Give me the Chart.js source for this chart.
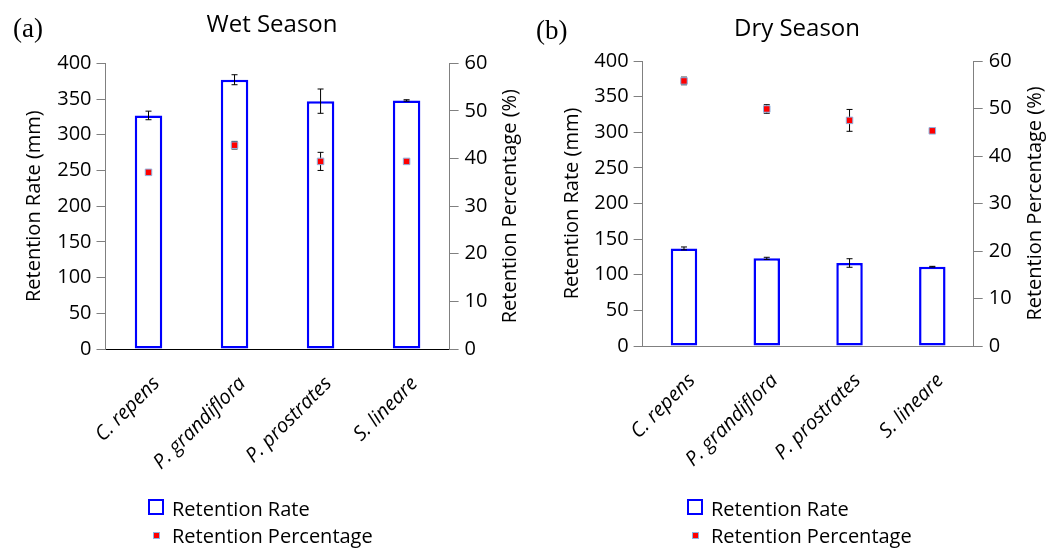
<!DOCTYPE html>
<html>
<head>
<meta charset="utf-8">
<script src="https://cdn.jsdelivr.net/npm/chart.js"></script>
<style>
    body { margin: 0; background: #fff; font-family: 'Open Sans', sans-serif; }
    #wrap { position: relative; width: 1057px; height: 548px; overflow: hidden; }
    canvas { position: absolute; top: 0; }
    .panel { position: absolute; font-family: 'Liberation Serif', serif; font-size: 27px; line-height: 30px; }
    .leg { position: absolute; font-size: 20px; line-height: 24px; height: 24px; white-space: nowrap; }
    .box { position: absolute; box-sizing: border-box; }
</style>
</head>
<body>
<div id="wrap">
    <canvas id="wetChart" width="529" height="548" style="left:0"></canvas>
    <canvas id="dryChart" width="528" height="548" style="left:529px"></canvas>
    <div class="panel" style="left:13px;top:13px">(a)</div>
    <div class="panel" style="left:536px;top:15px">(b)</div>
    <div id="wetLegend"></div>
    <div id="dryLegend"></div>
</div>
<script>
var species = ['C. repens', 'P. grandiflora', 'P. prostrates', 'S. lineare'];

var wetRate = [327, 377, 347, 348];
var wetRateErr = [6, 7, 17, 1];
var wetPct = [37.1, 42.8, 39.4, 39.4];
var wetPctErr = [0.3, 0.8, 1.9, 0.3];

var dryRate = [137, 123, 116.5, 111.3];
var dryRateErr = [2, 1.5, 6, 0.5];
var dryPct = [55.8, 49.9, 47.5, 45.3];
var dryPctErr = [0.8, 0.9, 2.3, 0.3];

var rateMax = 400, rateStep = 50;
var pctMax = 60, pctStep = 10;

Chart.defaults.font.family = "'Open Sans', sans-serif";
Chart.defaults.color = '#000';

function whiskers(chart, index) {
    var ds = chart.data.datasets[index];
    if (!ds.errors) return;
    var ctx = chart.ctx;
    var meta = chart.getDatasetMeta(index);
    var scale = chart.scales[meta.yAxisID];
    ctx.save();
    ctx.strokeStyle = '#000';
    ctx.lineWidth = 1;
    meta.data.forEach(function (el, j) {
        var hi = scale.getPixelForValue(ds.data[j] + ds.errors[j]);
        var lo = scale.getPixelForValue(ds.data[j] - ds.errors[j]);
        ctx.beginPath();
        ctx.moveTo(el.x, hi); ctx.lineTo(el.x, lo);
        ctx.moveTo(el.x - 3, hi); ctx.lineTo(el.x + 3, hi);
        ctx.moveTo(el.x - 3, lo); ctx.lineTo(el.x + 3, lo);
        ctx.stroke();
    });
    ctx.restore();
}

// bar whiskers go on top of the bars, point whiskers go under the markers
var errorBars = {
    id: 'errorBars',
    afterDatasetDraw: function (chart, args) {
        if (chart.data.datasets[args.index].type !== 'line') whiskers(chart, args.index);
    },
    beforeDatasetDraw: function (chart, args) {
        if (chart.data.datasets[args.index].type === 'line') whiskers(chart, args.index);
    }
};

// right axis title reads bottom to top, like the left one
var rightTitle = {
    id: 'rightTitle',
    afterDraw: function (chart, args, opts) {
        var ctx = chart.ctx;
        var a = chart.chartArea;
        ctx.save();
        ctx.translate(a.right + opts.offset, (a.top + a.bottom) / 2);
        ctx.rotate(-Math.PI / 2);
        ctx.font = "20px 'Open Sans', sans-serif";
        ctx.fillStyle = '#000';
        ctx.textAlign = 'center';
        ctx.textBaseline = 'middle';
        ctx.fillText(opts.text, 0, 0);
        ctx.restore();
    }
};

function drawChart(id, title, rate, rateErr, pct, pctErr, lay) {
    var ctx = document.getElementById(id).getContext('2d');
    return new Chart(ctx, {
        type: 'bar',
        data: {
            labels: species,
            datasets: [{
                type: 'line',
                label: 'Retention Percentage',
                data: pct,
                errors: pctErr,
                yAxisID: 'y1',
                showLine: false,
                pointStyle: 'rect',
                pointRadius: 4.6,
                pointBackgroundColor: '#ff0000',
                pointBorderColor: '#8db4e2',
                pointBorderWidth: 1,
                order: 1
            }, {
                label: 'Retention Rate',
                data: rate,
                errors: rateErr,
                yAxisID: 'y',
                backgroundColor: '#ffffff',
                borderColor: '#0000ff',
                borderWidth: 2.5,
                borderSkipped: false,
                barPercentage: 0.8,
                categoryPercentage: 0.4,
                order: 2
            }]
        },
        options: {
            responsive: false,
            animation: false,
            layout: { padding: { left: lay.padLeft, right: 0, top: 0, bottom: 0 } },
            plugins: {
                legend: { display: false },
                tooltip: { enabled: false },
                title: {
                    display: true,
                    text: title,
                    font: { size: 24, weight: 'normal' },
                    color: '#000',
                    padding: { top: lay.titleTop, bottom: lay.titleBottom }
                },
                rightTitle: { text: 'Retention Percentage (%)', offset: lay.rightTitle }
            },
            scales: {
                x: {
                    grid: { display: false },
                    border: { display: true, color: lay.xColor, width: 1 },
                    ticks: {
                        autoSkip: false,
                        minRotation: 45,
                        maxRotation: 45,
                        padding: 15,
                        labelOffset: 8,
                        font: { size: 20, style: 'italic' }
                    },
                    afterFit: function (s) { s.height = lay.xHeight; }
                },
                y: {
                    position: 'left',
                    min: 0,
                    max: rateMax,
                    ticks: { stepSize: rateStep, padding: 5, font: { size: 20 } },
                    grid: { drawOnChartArea: false, tickLength: 9, color: '#808080' },
                    border: { color: '#808080' },
                    title: {
                        display: true,
                        text: 'Retention Rate (mm)',
                        font: { size: 20 },
                        padding: { top: lay.leftTitle }
                    },
                    afterFit: function (s) { s.width = lay.leftWidth; }
                },
                y1: {
                    position: 'right',
                    min: 0,
                    max: pctMax,
                    ticks: { stepSize: pctStep, padding: 6, font: { size: 20 } },
                    grid: { drawOnChartArea: false, tickLength: 9, color: '#808080' },
                    border: { color: '#808080' },
                    afterFit: function (s) { s.width = lay.rightWidth; }
                }
            }
        },
        plugins: [errorBars, rightTitle]
    });
}

function drawLegend(id, chart, left) {
    var el = document.getElementById(id);
    var rows = [
        { ds: chart.data.datasets[1], top: 497 },
        { ds: chart.data.datasets[0], top: 524 }
    ];
    rows.forEach(function (r) {
        var mark = document.createElement('div');
        mark.className = 'box';
        if (r.ds.type === 'line') {
            mark.style.cssText = 'left:' + (left + 5) + 'px;top:' + (r.top + 8) + 'px;width:7px;height:7px;' +
                'background:' + r.ds.pointBackgroundColor + ';border:1px solid ' + r.ds.pointBorderColor;
        } else {
            mark.style.cssText = 'left:' + left + 'px;top:' + (r.top + 2) + 'px;width:16px;height:16px;' +
                'background:#fff;border:2px solid ' + r.ds.borderColor;
        }
        el.appendChild(mark);
        var txt = document.createElement('div');
        txt.className = 'leg';
        txt.style.left = (left + 24) + 'px';
        txt.style.top = r.top + 'px';
        txt.textContent = r.ds.label;
        el.appendChild(txt);
    });
}

var wet = drawChart('wetChart', 'Wet Season', wetRate, wetRateErr, wetPct, wetPctErr, {
    padLeft: 15, leftWidth: 90.5, rightWidth: 79.4, leftTitle: 7, rightTitle: 61,
    titleTop: 11, titleBottom: 23.5, xHeight: 199, xColor: '#000'
});
var dry = drawChart('dryChart', 'Dry Season', dryRate, dryRateErr, dryPct, dryPctErr, {
    padLeft: 8, leftWidth: 105.6, rightWidth: 83.3, leftTitle: 23, rightTitle: 62,
    titleTop: 15, titleBottom: 17.2, xHeight: 202, xColor: '#808080'
});

drawLegend('wetLegend', wet, 148);
drawLegend('dryLegend', dry, 687);
</script>
</body>
</html>
